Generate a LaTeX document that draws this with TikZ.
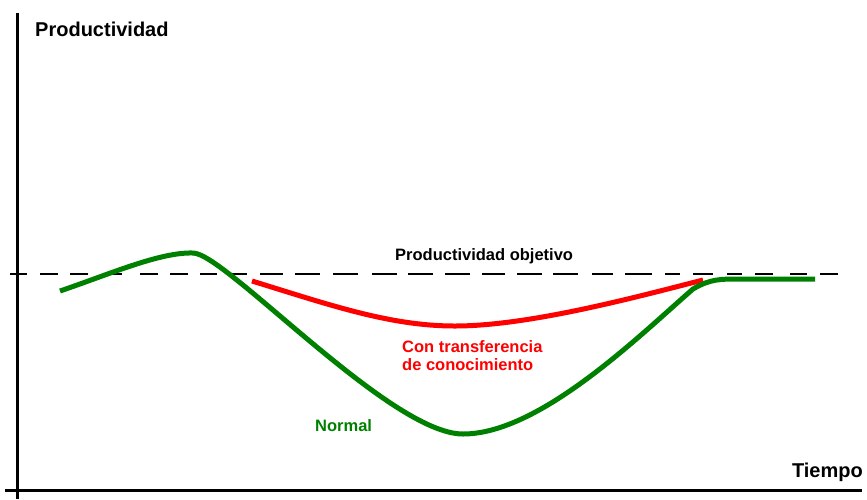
\documentclass[tikz,border=0pt]{standalone}
\usepackage{fontspec}
\setmainfont{Liberation Sans}
\definecolor{cgreen}{RGB}{0,128,0}
\definecolor{cred}{RGB}{255,0,0}
\begin{document}
\begin{tikzpicture}[x=1pt,y=-1pt,
  axis/.style={line width=3pt,black},
  target/.style={line width=2.7pt,black},
  normalcurve/.style={line width=5pt,cgreen},
  transfercurve/.style={line width=5pt,cred},
  biglabel/.style={inner sep=0pt,font=\fontsize{20}{24}\selectfont\bfseries},
  smalllabel/.style={inner sep=0pt,anchor=base west,font=\fontsize{16.5}{20}\selectfont\bfseries}]
\useasboundingbox (0,0) rectangle (867,499);
% axes
\coordinate (ytop) at (17,13);
\coordinate (ybot) at (17,499);
\coordinate (xleft) at (5,490);
\coordinate (xright) at (862,490);
\draw[axis] (ytop) -- (ybot);
\draw[axis] (xleft) -- (xright);
% target dashed line
\foreach \a/\b in {10/27,40/58,70/88,104/122,140/158,170/188,200/217,230/247,260/283,
  295/320,333/358,372/397,408/433,445/470,482/505,517/542,553/578,592/613,625/652,
  665/680,693/713,727/742,755/773,790/807,820/838}
  \draw[target] (\a,274) -- (\b,274);
% red curve
\coordinate (r0) at (252,281);
\coordinate (r1) at (455,326);
\coordinate (r2) at (703,280);
\draw[transfercurve] (r0) .. controls (330,305) and (390,326) .. (r1)
  .. controls (530,326) and (640,296) .. (r2);
% green curve
\coordinate (g0) at (60,291);
\coordinate (g1) at (193,253);
\coordinate (g2) at (463,434);
\coordinate (g3) at (693,289);
\coordinate (g4) at (740,279);
\coordinate (g5) at (815,279);
\draw[normalcurve] (g0) .. controls (110,274) and (160,252) .. (g1)
  .. controls (225,253) and (390,434) .. (g2)
  .. controls (540,434) and (640,335) .. (g3)
  .. controls (710,279) and (720,279) .. (g4) -- (g5);
% labels
\node[biglabel,anchor=base west] (ylab) at (35,36) {Productividad};
\node[biglabel,anchor=base east] (xlab) at (863,477) {Tiempo};
\node[smalllabel] (tlab) at (395,260) {Productividad objetivo};
\node[smalllabel,text=cred] (rlab1) at (402,352) {Con transferencia};
\node[smalllabel,text=cred] (rlab2) at (402,370) {de conocimiento};
\node[smalllabel,text=cgreen] (glab) at (315,431) {Normal};
\end{tikzpicture}
\end{document}
